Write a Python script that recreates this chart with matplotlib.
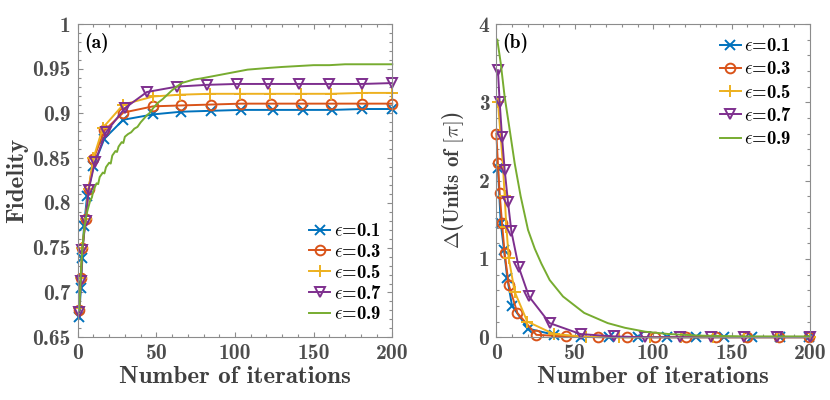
import matplotlib
matplotlib.use("Agg")
import matplotlib.pyplot as plt
from matplotlib.ticker import MultipleLocator

# ---------------- data: panel (a) Fidelity ----------------
eps_labels = ["0.1", "0.3", "0.5", "0.7", "0.9"]

it_a_01 = [1, 2, 3, 4, 6, 10, 17, 29, 48, 66, 85, 104, 124, 143, 162, 181, 200]
fid_01 = [0.673, 0.705, 0.739, 0.774, 0.808, 0.841, 0.872, 0.893, 0.899, 0.902,
          0.903, 0.904, 0.904, 0.904, 0.904, 0.905, 0.905]

it_a_03 = [1, 2, 3, 5, 7, 10, 17, 29, 48, 66, 85, 104, 123, 142, 161, 181, 200]
fid_03 = [0.680, 0.716, 0.750, 0.782, 0.816, 0.849, 0.881, 0.901, 0.908, 0.909,
          0.910, 0.911, 0.911, 0.911, 0.911, 0.911, 0.911]

it_a_05 = [1, 2, 3, 5, 7, 10, 16, 29, 48, 65, 84, 103, 122, 142, 161, 181, 200]
fid_05 = [0.683, 0.716, 0.750, 0.782, 0.816, 0.850, 0.884, 0.910, 0.919, 0.921,
          0.922, 0.922, 0.922, 0.922, 0.922, 0.923, 0.923]

it_a_07 = [1, 2, 3, 5, 7, 11, 18, 30, 44, 63, 82, 101, 121, 141, 160, 181, 200]
fid_07 = [0.678, 0.713, 0.748, 0.780, 0.815, 0.846, 0.879, 0.906, 0.924, 0.930,
          0.932, 0.933, 0.933, 0.933, 0.933, 0.933, 0.934]

it_a_09 = [1, 2, 3, 4, 5, 6, 8, 9, 10, 12, 13, 14, 16, 17, 18, 20, 21, 22, 24,
           25, 26, 28, 29, 30, 32, 34, 36, 38, 40, 42, 44, 46, 48, 51, 54, 57,
           60, 63, 66, 70, 74, 78, 84, 90, 96, 102, 108, 115, 122, 130, 140,
           150, 160, 170, 180, 190, 200]
fid_09 = [0.680, 0.720, 0.750, 0.768, 0.781, 0.790, 0.803, 0.806, 0.814, 0.822,
          0.821, 0.829, 0.834, 0.833, 0.840, 0.845, 0.844, 0.853, 0.858, 0.857,
          0.863, 0.868, 0.867, 0.874, 0.877, 0.879, 0.883, 0.885, 0.890, 0.894,
          0.898, 0.901, 0.906, 0.912, 0.916, 0.921, 0.926, 0.930, 0.934, 0.936,
          0.938, 0.939, 0.941, 0.943, 0.945, 0.947, 0.949, 0.950, 0.951, 0.952,
          0.953, 0.954, 0.954, 0.955, 0.955, 0.955, 0.955]

# ---------------- data: panel (b) Delta ----------------
it_b_01 = [1, 2.8, 4.9, 7, 10, 20.2, 37, 54, 72, 90, 109, 127, 145, 163, 181, 199]
del_01 = [2.16, 1.46, 1.11, 0.75, 0.40, 0.11, 0.03, 0.005, 0, 0, 0, 0, 0, 0, 0, 0]

it_b_03 = [0, 1, 2.1, 3.6, 5.3, 7.9, 13.4, 25.5, 44.6, 65, 83, 101, 121, 140, 160, 180, 199]
del_03 = [2.60, 2.22, 1.84, 1.46, 1.07, 0.67, 0.31, 0.03, 0.01, 0, 0, 0, 0, 0, 0, 0, 0]

it_b_05 = [1, 4.2, 5.3, 6.4, 7.9, 11.7, 19.7, 36.7, 57, 78, 98, 118, 138, 158, 179, 200]
del_05 = [3.01, 2.20, 1.80, 1.41, 1.01, 0.58, 0.20, 0.04, 0.005, 0, 0, 0, 0, 0, 0, 0]

it_b_07 = [1, 2.1, 3.6, 5.3, 7.4, 9.6, 14.2, 20.8, 34, 53.7, 75, 95, 117, 137, 158, 179, 200]
del_07 = [3.41, 3.01, 2.56, 2.14, 1.73, 1.35, 0.90, 0.52, 0.18, 0.04, 0.01, 0, 0, 0, 0, 0, 0]

it_b_09 = [0.6, 2.8, 5.3, 8.5, 11.7, 15.5, 20.2, 24.5, 28.7, 34, 42.5, 56, 71, 82,
           95, 110, 130, 160, 200]
del_09 = [3.80, 3.50, 3.07, 2.65, 2.22, 1.80, 1.37, 1.13, 0.94, 0.73, 0.52, 0.31,
          0.18, 0.12, 0.07, 0.04, 0.02, 0.01, 0.01]

# ---------------- style ----------------
colors = ["#0072BD", "#D95319", "#EDB120", "#7E2F8E", "#77AC30"]
markers = ["x", "o", "+", "v", None]
msizes = [7, 7, 9, 6.5, 0]

plt.rcParams["font.family"] = ["cmb10", "DejaVu Serif"]
plt.rcParams["mathtext.fontset"] = "cm"
plt.rcParams["axes.unicode_minus"] = False
TICK_COLOR = "#4d4d4d"
LABEL_COLOR = "#404040"
SPINE_COLOR = "#8c8c8c"

fig = plt.figure(figsize=(8.3, 4.0), dpi=100)
axA = fig.add_axes([0.0936, 0.157, 0.379, 0.783])
axB = fig.add_axes([0.598, 0.157, 0.378, 0.783])


def plot_series(ax, xs_list, ys_list):
    for i, (xs, ys) in enumerate(zip(xs_list, ys_list)):
        label = r"$\epsilon$=" + eps_labels[i]
        if markers[i] is None:
            ax.plot(xs, ys, color=colors[i], lw=1.4, label=label, clip_on=False)
        else:
            ax.plot(xs, ys, color=colors[i], lw=1.4, marker=markers[i],
                    ms=msizes[i], mfc="none", mew=1.4, label=label, clip_on=False)


def style_axes(ax):
    for s in ax.spines.values():
        s.set_color(SPINE_COLOR)
        s.set_linewidth(0.8)
    ax.tick_params(which="both", direction="in", top=True, right=True,
                   color=SPINE_COLOR, labelcolor=TICK_COLOR, labelsize=15.5)
    ax.tick_params(which="major", length=3.5, width=0.8, pad=5)
    ax.tick_params(which="minor", length=2.5, width=0.8)
    for lab in ax.get_xticklabels() + ax.get_yticklabels():
        lab.set_fontweight("bold")


plot_series(axA, [it_a_01, it_a_03, it_a_05, it_a_07, it_a_09],
            [fid_01, fid_03, fid_05, fid_07, fid_09])
axA.set_xlim(0, 200)
axA.set_ylim(0.65, 1.0)
axA.xaxis.set_major_locator(MultipleLocator(50))
axA.xaxis.set_minor_locator(MultipleLocator(10))
axA.yaxis.set_major_locator(MultipleLocator(0.05))
axA.yaxis.set_minor_locator(MultipleLocator(0.01))
axA.yaxis.set_major_formatter(plt.FuncFormatter(lambda v, p: ("%.2f" % v).rstrip("0").rstrip(".")))
style_axes(axA)
axA.set_xlabel("Number of iterations", fontsize=18, color=LABEL_COLOR, labelpad=2)
axA.set_ylabel("Fidelity", fontsize=18, color=LABEL_COLOR, labelpad=3)
axA.text(0.02, 0.94, "(a)", transform=axA.transAxes, fontsize=14, va="center", ha="left")
axA.legend(loc="lower right", frameon=False, fontsize=13.5, handlelength=1.1,
           handletextpad=0.2, labelspacing=0.15, borderaxespad=0.0,
           bbox_to_anchor=(0.99, 0.02))

plot_series(axB, [it_b_01, it_b_03, it_b_05, it_b_07, it_b_09],
            [del_01, del_03, del_05, del_07, del_09])
axB.set_xlim(0, 200)
axB.set_ylim(0, 4)
axB.xaxis.set_major_locator(MultipleLocator(50))
axB.xaxis.set_minor_locator(MultipleLocator(10))
axB.yaxis.set_major_locator(MultipleLocator(1))
axB.yaxis.set_minor_locator(MultipleLocator(0.2))
style_axes(axB)
axB.set_xlabel("Number of iterations", fontsize=18, color=LABEL_COLOR, labelpad=2)
axB.set_ylabel(r"$\Delta$(Units of $[\pi]$)", fontsize=15, color=LABEL_COLOR, labelpad=9)
axB.text(0.02, 0.94, "(b)", transform=axB.transAxes, fontsize=14, va="center", ha="left")
axB.legend(loc="upper right", frameon=False, fontsize=13.5, handlelength=1.1,
           handletextpad=0.2, labelspacing=0.28, borderaxespad=0.3,
           bbox_to_anchor=(0.985, 1.0))

fig.savefig("out.png", dpi=100)
